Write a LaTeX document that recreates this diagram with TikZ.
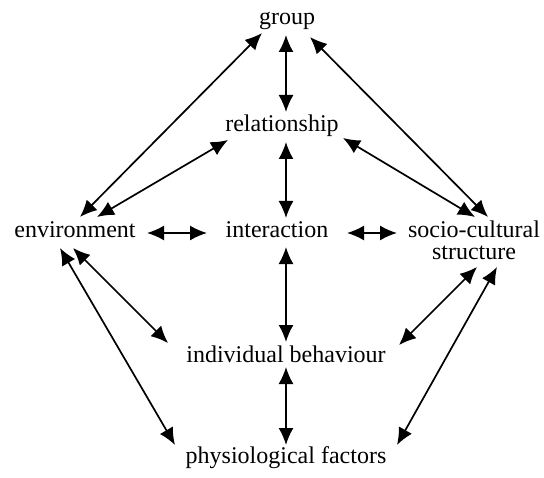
\documentclass[tikz,border=0pt]{standalone}
\usepackage{fontspec}
\setmainfont{Liberation Serif}
\usepackage{tikz}
\usetikzlibrary{calc}
\usetikzlibrary{arrows.meta}
\tikzset{>={Latex[length=17bp,width=15bp]}}
\tikzset{term/.style = {inner sep=0pt,anchor=base,font=\fontsize{24bp}{22bp}\selectfont}}
\tikzset{link/.style = {<->,line width=1.7bp}}

\begin{document}
\begin{tikzpicture}[x=1bp,y=-1bp]
                \useasboundingbox (0,0) rectangle (544,478);
                \node[term] (G) at (287,25) {group};
                \node[term] (R) at (282,132) {relationship};
                \node[term] (E) at (75,237) {environment};
                \node[term] (I) at (277,237) {interaction};
                \node[term,align=center] (S) at (474,259) {socio-cultural\\structure};
                \node[term] (B) at (286,362) {individual behaviour};
                \node[term] (P) at (286,463) {physiological factors};

                \draw[link] ($(G.base)+(-1,10)$) -- ($(R.base)+(4,-20)$);
                \draw[link] ($(R.base)+(4,10)$) -- ($(I.base)+(9,-19)$);
                \draw[link] ($(I.base)+(9,10)$) -- ($(B.base)+(0,-20)$);
                \draw[link] ($(B.base)+(0,5)$) -- ($(P.base)+(0,-18)$);
                \draw[link] ($(E.base)+(72,-4)$) -- ($(I.base)+(-70,-4)$);
                \draw[link] ($(I.base)+(70,-4)$) -- ($(S.base)+(-77,-26)$);
                \draw[link] ($(G.base)+(-25,8)$) -- ($(E.base)+(5,-20)$);
                \draw[link] ($(R.base)+(-54,8)$) -- ($(E.base)+(22,-20)$);
                \draw[link] ($(G.base)+(23,12)$) -- ($(S.base)+(14,-42)$);
                \draw[link] ($(R.base)+(61,6)$) -- ($(S.base)+(1,-42)$);
                \draw[link] ($(E.base)+(-2,11)$) -- ($(B.base)+(-118,-19)$);
                \draw[link] ($(E.base)+(-15,11)$) -- ($(P.base)+(-111,-18)$);
                \draw[link] ($(S.base)+(3,8)$) -- ($(B.base)+(113,-17)$);
                \draw[link] ($(S.base)+(23,8)$) -- ($(P.base)+(111,-18)$);
            \end{tikzpicture}
\end{document}
